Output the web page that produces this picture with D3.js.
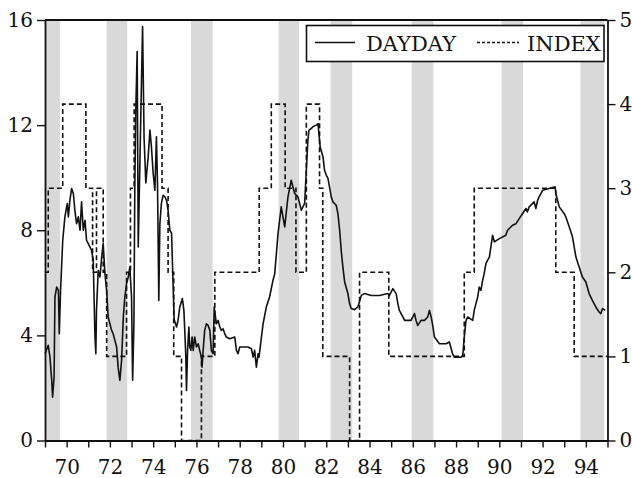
<!DOCTYPE html>
<html><head><meta charset="utf-8">
<script src="https://cdn.jsdelivr.net/npm/d3@7"></script>
<style>
html,body{margin:0;padding:0;background:#fff;}
svg{display:block;}
</style>
</head><body>
<svg id="c" width="632" height="478"></svg>
<script>
// ---- data ----
const recessionStart = [69.0, 71.85, 75.75, 79.8, 82.2, 85.95, 90.1, 93.75];
const recessionEnd   = [69.7, 72.8, 76.75, 80.75, 83.2, 86.95, 91.1, 94.85];

const ddYears = [69.0,69.15,69.23,69.31,69.35,69.42,69.46,69.54,69.62,69.66,69.72,69.82,69.92,70.03,70.08,70.15,70.23,70.31,70.38,70.46,70.54,70.62,70.69,70.77,70.85,70.92,71.0,71.08,71.15,71.23,71.26,71.31,71.35,71.38,71.46,71.54,71.62,71.69,71.77,71.85,71.92,72.0,72.08,72.15,72.23,72.31,72.38,72.46,72.54,72.62,72.69,72.77,72.85,72.92,73.0,73.05,73.11,73.15,73.2,73.26,73.31,73.51,73.58,73.66,73.77,73.85,73.92,74.0,74.08,74.15,74.2,74.26,74.31,74.38,74.46,74.54,74.62,74.69,74.77,74.85,74.9,74.97,75.08,75.15,75.23,75.35,75.42,75.46,75.51,75.54,75.59,75.65,75.69,75.74,75.8,75.85,75.92,76.0,76.08,76.15,76.23,76.26,76.31,76.38,76.46,76.54,76.62,76.69,76.77,76.82,76.88,76.92,77.0,77.08,77.15,77.23,77.31,77.38,77.54,77.77,77.85,77.92,78.0,78.15,78.38,78.54,78.62,78.69,78.77,78.85,78.89,78.95,79.08,79.23,79.38,79.54,79.62,79.77,79.92,80.08,80.23,80.38,80.54,80.69,80.85,81.0,81.08,81.15,81.2,81.31,81.38,81.54,81.62,81.66,81.72,81.85,81.92,82.0,82.08,82.15,82.23,82.31,82.46,82.54,82.62,82.69,82.77,82.85,83.0,83.08,83.15,83.31,83.46,83.62,83.77,84.08,84.46,84.85,84.92,85.08,85.23,85.31,85.38,85.54,85.62,85.92,86.08,86.15,86.23,86.38,86.54,86.69,86.77,86.85,86.92,87.0,87.23,87.54,87.69,87.84,87.92,88.07,88.23,88.31,88.38,88.46,88.54,88.77,88.84,88.92,89.0,89.07,89.15,89.23,89.3,89.38,89.46,89.54,89.61,89.69,89.77,90.0,90.3,90.38,90.61,90.77,90.92,91.07,91.23,91.3,91.38,91.61,91.69,91.77,91.84,92.0,92.3,92.58,92.61,92.69,92.77,93.0,93.07,93.23,93.38,93.46,93.54,93.69,93.84,94.0,94.15,94.3,94.46,94.61,94.69,94.77,94.9];
const ddValues = [3.3,3.62,3.17,2.29,1.65,2.41,5.46,5.84,5.71,4.06,5.71,7.62,8.51,9.02,8.51,9.14,9.59,9.4,8.76,8.25,8.51,8.0,9.08,8.0,8.38,7.62,7.49,7.36,7.24,6.86,5.71,3.94,3.3,4.95,6.48,6.22,6.98,7.49,6.35,5.71,4.7,4.44,4.19,4.06,3.81,3.56,2.79,2.29,3.05,4.7,5.46,5.97,6.22,6.6,5.46,2.29,4.44,9.52,12.7,14.8,7.36,15.75,11.5,9.8,10.79,11.81,11.17,10.16,9.52,11.56,9.78,5.33,8.25,9.02,9.33,9.27,9.14,8.76,8.0,7.9,6.5,4.6,4.32,4.57,5.08,5.4,4.95,4.19,3.17,1.9,3.43,4.32,3.56,3.43,3.94,3.43,3.94,3.56,3.68,3.43,3.17,2.79,3.43,4.19,4.44,4.38,4.19,3.43,3.3,5.08,4.7,4.44,4.57,4.32,4.19,4.25,4.06,3.94,3.87,3.94,3.43,3.3,3.56,3.56,3.56,3.49,3.17,3.43,2.79,3.3,3.17,3.56,4.44,5.08,5.46,6.1,6.35,7.87,8.89,8.13,9.27,9.9,9.4,9.27,8.76,9.02,10.3,11.4,11.81,11.87,11.94,12.0,12.06,11.68,11.17,10.79,10.29,10.1,9.97,9.65,9.27,9.08,8.95,8.63,8.0,7.24,6.6,6.03,5.59,5.21,5.02,4.98,5.08,5.52,5.59,5.52,5.52,5.59,5.52,5.78,5.59,5.21,4.95,4.7,4.57,4.57,4.83,4.57,4.38,4.57,4.57,4.7,4.95,4.7,4.38,3.94,3.68,3.68,3.75,3.3,3.17,3.17,3.17,3.24,3.94,4.57,4.7,4.57,4.95,5.21,5.46,5.84,5.71,6.1,6.35,6.73,6.86,6.98,7.37,7.81,7.56,7.68,7.81,8.0,8.19,8.25,8.44,8.63,8.83,8.7,8.89,9.08,8.83,9.14,9.27,9.52,9.59,9.65,9.4,9.14,8.89,8.63,8.51,8.13,7.75,7.37,6.98,6.6,6.22,6.03,5.59,5.33,5.08,4.89,4.83,5.02,4.95];

const idxYears  = [69.0,69.15,69.82,70.89,71.2,71.38,71.69,71.85,72.77,72.95,73.12,74.41,74.69,74.95,75.31,76.23,76.85,78.9,79.46,80.1,80.6,81.08,81.69,81.84,83.08,83.54,84.89,88.38,88.84,92.61,93.46,95.0];
const idxLevels = [2,3,4,3,2,3,2,1,2,3,4,3,2,1,0,1,2,3,4,3,2,4,3,1,0,2,1,2,3,2,1,1];

const leftTicks = [0,4,8,12,16];
const rightTicks = [0,1,2,3,4,5];
const yearTicks = d3.range(69, 96);
const yearLabels = ["70","72","74","76","78","80","82","84","86","88","90","92","94"];
const seriesNames = ["DAYDAY","INDEX"];

// ---- layout ----
const L = 45, R = 607.5, T = 20, B = 440.5;
const svg = d3.select("#c");
const font = "'DejaVu Serif', serif";

const x = d3.scaleLinear().domain([69, 95]).range([L, R]);
const yL = d3.scaleLinear().domain([0, 16]).range([B, T]);
const yR = d3.scaleLinear().domain([0, 5]).range([B, T]);

// recession bands
svg.append("g").selectAll("rect").data(recessionStart).join("rect")
  .attr("x", d => x(d))
  .attr("width", (d, i) => x(recessionEnd[i]) - x(d))
  .attr("y", T).attr("height", B - T)
  .attr("fill", "#d9d9d9");

// INDEX step line
const idxData = idxYears.map((d, i) => [d, idxLevels[i]]);
svg.append("path").datum(idxData)
  .attr("fill", "none").attr("stroke", "#111").attr("stroke-width", 1.6)
  .attr("stroke-dasharray", "5,3")
  .attr("d", d3.line().x(d => x(d[0])).y(d => yR(d[1])).curve(d3.curveStepAfter));

// DAYDAY line
const ddData = ddYears.map((d, i) => [d, ddValues[i]]);
svg.append("path").datum(ddData)
  .attr("fill", "none").attr("stroke", "#111").attr("stroke-width", 1.6)
  .attr("stroke-linejoin", "round")
  .attr("d", d3.line().x(d => x(d[0])).y(d => yL(d[1])));

// axes
function styleAxis(g) {
  g.selectAll("path.domain").attr("stroke", "#111").attr("stroke-width", 1.8);
  g.selectAll(".tick line").attr("stroke", "#111").attr("stroke-width", 1.4);
  g.selectAll("text").attr("font-family", font).attr("font-size", 20).attr("fill", "#111");
}
const gL = svg.append("g").attr("transform", `translate(${L},0)`)
  .call(d3.axisLeft(yL).tickValues(leftTicks).tickFormat(d3.format("d"))
    .tickSize(8).tickSizeOuter(0).tickPadding(4));
styleAxis(gL);
const gR = svg.append("g").attr("transform", `translate(${R},0)`)
  .call(d3.axisRight(yR).tickValues(rightTicks).tickFormat(d3.format("d"))
    .tickSize(8).tickSizeOuter(0).tickPadding(4));
styleAxis(gR);
const gB = svg.append("g").attr("transform", `translate(0,${B})`)
  .call(d3.axisBottom(x).tickValues(yearTicks).tickSize(7).tickSizeOuter(0).tickPadding(12)
    .tickFormat(d => yearLabels.includes(String(d % 100)) ? String(d % 100) : ""));
styleAxis(gB);
// top border
svg.append("line").attr("x1", L).attr("x2", R).attr("y1", T).attr("y2", T)
  .attr("stroke", "#111").attr("stroke-width", 1.8);

// legend
const lg = svg.append("g");
lg.append("rect").attr("x", 306.5).attr("y", 25.5).attr("width", 297.5).attr("height", 36)
  .attr("fill", "#fff").attr("stroke", "#111").attr("stroke-width", 1.6);
lg.append("line").attr("x1", 315).attr("x2", 355).attr("y1", 42.5).attr("y2", 42.5)
  .attr("stroke", "#111").attr("stroke-width", 1.5);
lg.append("text").attr("x", 366).attr("y", 50.5).text(seriesNames[0])
  .attr("font-family", font).attr("font-size", 21).attr("fill", "#111");
lg.append("line").attr("x1", 477).attr("x2", 519).attr("y1", 42.5).attr("y2", 42.5)
  .attr("stroke", "#111").attr("stroke-width", 1.4).attr("stroke-dasharray", "3,2");
lg.append("text").attr("x", 527).attr("y", 50.5).text(seriesNames[1])
  .attr("font-family", font).attr("font-size", 21).attr("fill", "#111");
</script>
</body></html>
